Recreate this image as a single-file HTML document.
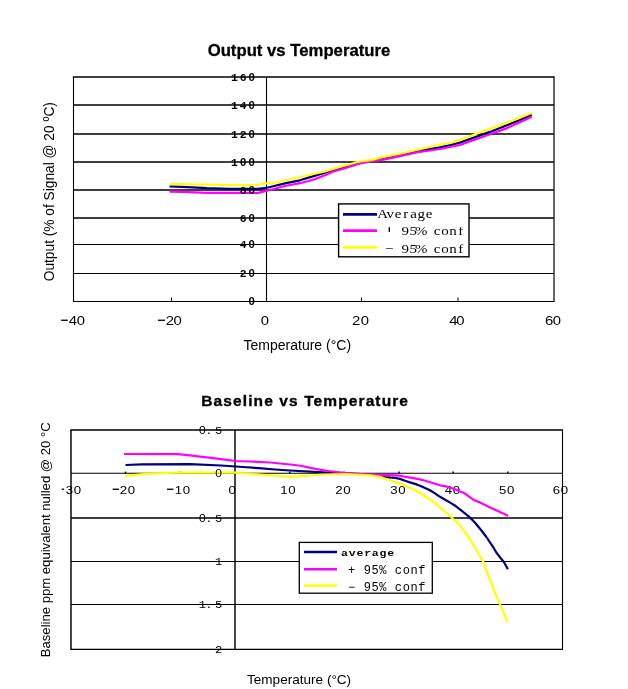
<!DOCTYPE html>
<html><head><meta charset="utf-8"><style>
html,body{margin:0;padding:0;background:#fff;width:628px;height:689px;overflow:hidden}
svg{display:block;will-change:transform}
</style></head><body>
<svg width="628" height="689" viewBox="0 0 628 689">
<rect x="0" y="0" width="628" height="689" fill="#fff"/>
<text x="207.65" y="55.5" font-family="Liberation Sans" font-size="17.3" font-weight="bold" textLength="182.66" lengthAdjust="spacingAndGlyphs" stroke="#000" stroke-width="0.3">Output vs Temperature</text>
<line x1="73.5" y1="105" x2="554.0" y2="105" stroke="#000" stroke-width="1.45"/>
<line x1="73.5" y1="134" x2="554.0" y2="134" stroke="#000" stroke-width="1.45"/>
<line x1="73.5" y1="162" x2="554.0" y2="162" stroke="#000" stroke-width="1.45"/>
<line x1="73.5" y1="190" x2="554.0" y2="190" stroke="#000" stroke-width="1.45"/>
<line x1="73.5" y1="218" x2="554.0" y2="218" stroke="#000" stroke-width="1.45"/>
<line x1="73.5" y1="244.5" x2="554.0" y2="244.5" stroke="#000" stroke-width="1.1"/>
<line x1="73.5" y1="273.5" x2="554.0" y2="273.5" stroke="#000" stroke-width="1.1"/>
<line x1="266.5" y1="77" x2="266.5" y2="301.5" stroke="#000" stroke-width="1.1"/>
<line x1="171.5" y1="297.5" x2="171.5" y2="301.5" stroke="#000" stroke-width="1"/>
<line x1="361.5" y1="297.5" x2="361.5" y2="301.5" stroke="#000" stroke-width="1"/>
<line x1="458" y1="297.5" x2="458" y2="301.5" stroke="#000" stroke-width="1"/>
<line x1="72.8" y1="77" x2="554.6" y2="77" stroke="#000" stroke-width="1.45"/>
<line x1="73.0" y1="301.5" x2="554.6" y2="301.5" stroke="#000" stroke-width="1.1"/>
<line x1="73.5" y1="77" x2="73.5" y2="301.5" stroke="#000" stroke-width="1.1"/>
<line x1="554.0" y1="77" x2="554.0" y2="301.5" stroke="#000" stroke-width="1.2"/>
<polyline points="169.5,186.5 182,186.8 207,188.2 230,188.8 258,188.8 268,187.5 285,183.4 300,180.3 312,176.6 325,172.6 345,166.7 365,162 380,158.5 400,155 420,150.6 430,148.9 440,147.3 450,145.2 460,142.6 490,131.9 520,120 531.8,114.8" fill="none" stroke="#000080" stroke-width="2.2" stroke-linejoin="round"/>
<polyline points="169.5,191.6 182,191.8 207,192.8 230,192.9 258,192.9 268,190.5 285,186 300,183.2 314,179.5 325,175.3 332,172 345,168.3 360,163.5 372,161.1 385,159.3 400,156.2 420,151.8 430,150.5 440,149 450,147 460,145 490,134.3 505,128.9 520,122.3 531.8,116.7" fill="none" stroke="#ff00ff" stroke-width="2.2" stroke-linejoin="round"/>
<polyline points="169.5,184 182,184.1 207,184.6 255,185.3 262,183.7 275,182.8 285,180.5 305,175.8 325,171.5 340,166.9 350,164.3 355,162.6 360,161.5 372,159.9 380,157.6 400,153.7 420,149.3 430,147 440,144.7 450,143 460,140 475,134.3 490,128.9 505,123.5 520,117.5 531.8,112.9" fill="none" stroke="#ffff00" stroke-width="2.2" stroke-linejoin="round"/>
<text transform="translate(234.50,80.8) scale(1.05,1)" text-anchor="middle" font-family="Liberation Mono" font-size="10.8" font-weight="bold">1</text>
<text transform="translate(243.10,80.8) scale(1.05,1)" text-anchor="middle" font-family="Liberation Mono" font-size="10.8" font-weight="bold">6</text>
<text transform="translate(251.70,80.8) scale(1.05,1)" text-anchor="middle" font-family="Liberation Sans" font-size="10.8" font-weight="bold">0</text>
<text transform="translate(234.50,108.8) scale(1.05,1)" text-anchor="middle" font-family="Liberation Mono" font-size="10.8" font-weight="bold">1</text>
<text transform="translate(243.10,108.8) scale(1.05,1)" text-anchor="middle" font-family="Liberation Mono" font-size="10.8" font-weight="bold">4</text>
<text transform="translate(251.70,108.8) scale(1.05,1)" text-anchor="middle" font-family="Liberation Sans" font-size="10.8" font-weight="bold">0</text>
<text transform="translate(234.50,137.8) scale(1.05,1)" text-anchor="middle" font-family="Liberation Mono" font-size="10.8" font-weight="bold">1</text>
<text transform="translate(243.10,137.8) scale(1.05,1)" text-anchor="middle" font-family="Liberation Mono" font-size="10.8" font-weight="bold">2</text>
<text transform="translate(251.70,137.8) scale(1.05,1)" text-anchor="middle" font-family="Liberation Sans" font-size="10.8" font-weight="bold">0</text>
<text transform="translate(234.50,165.8) scale(1.05,1)" text-anchor="middle" font-family="Liberation Mono" font-size="10.8" font-weight="bold">1</text>
<text transform="translate(243.10,165.8) scale(1.05,1)" text-anchor="middle" font-family="Liberation Sans" font-size="10.8" font-weight="bold">0</text>
<text transform="translate(251.70,165.8) scale(1.05,1)" text-anchor="middle" font-family="Liberation Sans" font-size="10.8" font-weight="bold">0</text>
<text transform="translate(243.10,193.8) scale(1.05,1)" text-anchor="middle" font-family="Liberation Mono" font-size="10.8" font-weight="bold">8</text>
<text transform="translate(251.70,193.8) scale(1.05,1)" text-anchor="middle" font-family="Liberation Sans" font-size="10.8" font-weight="bold">0</text>
<text transform="translate(243.10,221.8) scale(1.05,1)" text-anchor="middle" font-family="Liberation Mono" font-size="10.8" font-weight="bold">6</text>
<text transform="translate(251.70,221.8) scale(1.05,1)" text-anchor="middle" font-family="Liberation Sans" font-size="10.8" font-weight="bold">0</text>
<text transform="translate(243.10,248.3) scale(1.05,1)" text-anchor="middle" font-family="Liberation Mono" font-size="10.8" font-weight="bold">4</text>
<text transform="translate(251.70,248.3) scale(1.05,1)" text-anchor="middle" font-family="Liberation Sans" font-size="10.8" font-weight="bold">0</text>
<text transform="translate(243.10,277.3) scale(1.05,1)" text-anchor="middle" font-family="Liberation Mono" font-size="10.8" font-weight="bold">2</text>
<text transform="translate(251.70,277.3) scale(1.05,1)" text-anchor="middle" font-family="Liberation Sans" font-size="10.8" font-weight="bold">0</text>
<text transform="translate(251.70,305.3) scale(1.05,1)" text-anchor="middle" font-family="Liberation Sans" font-size="10.8" font-weight="bold">0</text>
<text transform="translate(72.90,324.5) scale(1.22,1)" text-anchor="middle" font-family="Liberation Sans" font-size="12.2" font-weight="normal">4</text>
<text transform="translate(80.90,324.5) scale(1.22,1)" text-anchor="middle" font-family="Liberation Sans" font-size="12.2" font-weight="normal">0</text>
<rect x="61.1" y="319.6" width="6.70" height="1.3" fill="#000"/>
<text transform="translate(169.80,324.5) scale(1.22,1)" text-anchor="middle" font-family="Liberation Sans" font-size="12.2" font-weight="normal">2</text>
<text transform="translate(177.70,324.5) scale(1.22,1)" text-anchor="middle" font-family="Liberation Sans" font-size="12.2" font-weight="normal">0</text>
<rect x="157.9" y="319.6" width="7.10" height="1.3" fill="#000"/>
<text transform="translate(265.00,324.5) scale(1.22,1)" text-anchor="middle" font-family="Liberation Sans" font-size="12.2" font-weight="normal">0</text>
<text transform="translate(356.20,324.5) scale(1.22,1)" text-anchor="middle" font-family="Liberation Sans" font-size="12.2" font-weight="normal">2</text>
<text transform="translate(364.80,324.5) scale(1.22,1)" text-anchor="middle" font-family="Liberation Sans" font-size="12.2" font-weight="normal">0</text>
<text transform="translate(453.40,324.5) scale(1.22,1)" text-anchor="middle" font-family="Liberation Sans" font-size="12.2" font-weight="normal">4</text>
<text transform="translate(460.50,324.5) scale(1.22,1)" text-anchor="middle" font-family="Liberation Sans" font-size="12.2" font-weight="normal">0</text>
<text transform="translate(549.10,324.5) scale(1.22,1)" text-anchor="middle" font-family="Liberation Sans" font-size="12.2" font-weight="normal">6</text>
<text transform="translate(556.80,324.5) scale(1.22,1)" text-anchor="middle" font-family="Liberation Sans" font-size="12.2" font-weight="normal">0</text>
<text x="243.54" y="349.9" font-family="Liberation Sans" font-size="13.8" font-weight="normal" textLength="107.57" lengthAdjust="spacingAndGlyphs">Temperature (°C)</text>
<g transform="translate(53.6,383.7) rotate(-90)">
<text x="102.46" y="0" font-family="Liberation Sans" font-size="14.3" font-weight="normal" textLength="179.14" lengthAdjust="spacingAndGlyphs">Output (% of Signal @ 20 ºC)</text>
</g>
<rect x="338.6" y="203.9" width="130.4" height="52.9" fill="#fff" stroke="#000" stroke-width="1.4"/>
<line x1="343" y1="214.4" x2="377" y2="214.4" stroke="#000080" stroke-width="2.6"/>
<line x1="343" y1="230.6" x2="377" y2="230.6" stroke="#ff00ff" stroke-width="2.6"/>
<line x1="343" y1="247.4" x2="377" y2="247.4" stroke="#ffff00" stroke-width="2.6"/>
<text transform="translate(382.60,218.3) scale(1.15,1)" text-anchor="middle" font-family="Liberation Serif" font-size="13" font-weight="normal">A</text>
<text transform="translate(390.35,218.3) scale(1.15,1)" text-anchor="middle" font-family="Liberation Serif" font-size="13" font-weight="normal">v</text>
<text transform="translate(398.10,218.3) scale(1.15,1)" text-anchor="middle" font-family="Liberation Serif" font-size="13" font-weight="normal">e</text>
<text transform="translate(405.85,218.3) scale(1.15,1)" text-anchor="middle" font-family="Liberation Serif" font-size="13" font-weight="normal">r</text>
<text transform="translate(413.60,218.3) scale(1.15,1)" text-anchor="middle" font-family="Liberation Serif" font-size="13" font-weight="normal">a</text>
<text transform="translate(421.35,218.3) scale(1.15,1)" text-anchor="middle" font-family="Liberation Serif" font-size="13" font-weight="normal">g</text>
<text transform="translate(429.10,218.3) scale(1.15,1)" text-anchor="middle" font-family="Liberation Serif" font-size="13" font-weight="normal">e</text>
<text transform="translate(405.20,234.7) scale(1.15,1)" text-anchor="middle" font-family="Liberation Serif" font-size="13" font-weight="normal">9</text>
<text transform="translate(413.15,234.7) scale(1.15,1)" text-anchor="middle" font-family="Liberation Serif" font-size="13" font-weight="normal">5</text>
<text transform="translate(421.10,234.7) scale(1.15,1)" text-anchor="middle" font-family="Liberation Serif" font-size="13" font-weight="normal">%</text>
<text transform="translate(437.00,234.7) scale(1.15,1)" text-anchor="middle" font-family="Liberation Serif" font-size="13" font-weight="normal">c</text>
<text transform="translate(444.95,234.7) scale(1.15,1)" text-anchor="middle" font-family="Liberation Serif" font-size="13" font-weight="normal">o</text>
<text transform="translate(452.90,234.7) scale(1.15,1)" text-anchor="middle" font-family="Liberation Serif" font-size="13" font-weight="normal">n</text>
<text transform="translate(460.85,234.7) scale(1.15,1)" text-anchor="middle" font-family="Liberation Serif" font-size="13" font-weight="normal">f</text>
<rect x="383" y="221.5" width="84" height="5.7" fill="#fff"/>
<rect x="388.6" y="227.2" width="1.4" height="4.7" fill="#000"/>
<text transform="translate(389.30,253.0) scale(1.15,1)" text-anchor="middle" font-family="Liberation Serif" font-size="13" font-weight="normal">−</text>
<text transform="translate(405.20,253.0) scale(1.15,1)" text-anchor="middle" font-family="Liberation Serif" font-size="13" font-weight="normal">9</text>
<text transform="translate(413.15,253.0) scale(1.15,1)" text-anchor="middle" font-family="Liberation Serif" font-size="13" font-weight="normal">5</text>
<text transform="translate(421.10,253.0) scale(1.15,1)" text-anchor="middle" font-family="Liberation Serif" font-size="13" font-weight="normal">%</text>
<text transform="translate(437.00,253.0) scale(1.15,1)" text-anchor="middle" font-family="Liberation Serif" font-size="13" font-weight="normal">c</text>
<text transform="translate(444.95,253.0) scale(1.15,1)" text-anchor="middle" font-family="Liberation Serif" font-size="13" font-weight="normal">o</text>
<text transform="translate(452.90,253.0) scale(1.15,1)" text-anchor="middle" font-family="Liberation Serif" font-size="13" font-weight="normal">n</text>
<text transform="translate(460.85,253.0) scale(1.15,1)" text-anchor="middle" font-family="Liberation Serif" font-size="13" font-weight="normal">f</text>
<text x="201.32" y="405.5" font-family="Liberation Sans" font-size="15.5" font-weight="bold" textLength="206.65" lengthAdjust="spacing" stroke="#000" stroke-width="0.35">Baseline vs Temperature</text>
<text transform="translate(69.50,493.5) scale(1.25,1)" text-anchor="middle" font-family="Liberation Sans" font-size="10.6" font-weight="normal">3</text>
<text transform="translate(77.50,493.5) scale(1.25,1)" text-anchor="middle" font-family="Liberation Sans" font-size="10.6" font-weight="normal">0</text>
<rect x="61.7" y="488.6" width="2.40" height="1.3" fill="#000"/>
<text transform="translate(123.40,493.5) scale(1.25,1)" text-anchor="middle" font-family="Liberation Sans" font-size="10.6" font-weight="normal">2</text>
<text transform="translate(131.40,493.5) scale(1.25,1)" text-anchor="middle" font-family="Liberation Sans" font-size="10.6" font-weight="normal">0</text>
<rect x="112.6" y="488.6" width="6.40" height="1.3" fill="#000"/>
<text transform="translate(178.50,493.5) scale(1.25,1)" text-anchor="middle" font-family="Liberation Sans" font-size="10.6" font-weight="normal">1</text>
<text transform="translate(186.50,493.5) scale(1.25,1)" text-anchor="middle" font-family="Liberation Sans" font-size="10.6" font-weight="normal">0</text>
<rect x="167.0" y="488.6" width="6.40" height="1.3" fill="#000"/>
<text transform="translate(232.30,493.5) scale(1.25,1)" text-anchor="middle" font-family="Liberation Sans" font-size="10.6" font-weight="normal">0</text>
<text transform="translate(284.00,493.5) scale(1.25,1)" text-anchor="middle" font-family="Liberation Sans" font-size="10.6" font-weight="normal">1</text>
<text transform="translate(292.00,493.5) scale(1.25,1)" text-anchor="middle" font-family="Liberation Sans" font-size="10.6" font-weight="normal">0</text>
<text transform="translate(339.00,493.5) scale(1.25,1)" text-anchor="middle" font-family="Liberation Sans" font-size="10.6" font-weight="normal">2</text>
<text transform="translate(347.00,493.5) scale(1.25,1)" text-anchor="middle" font-family="Liberation Sans" font-size="10.6" font-weight="normal">0</text>
<text transform="translate(394.00,493.5) scale(1.25,1)" text-anchor="middle" font-family="Liberation Sans" font-size="10.6" font-weight="normal">3</text>
<text transform="translate(402.00,493.5) scale(1.25,1)" text-anchor="middle" font-family="Liberation Sans" font-size="10.6" font-weight="normal">0</text>
<text transform="translate(448.50,493.5) scale(1.25,1)" text-anchor="middle" font-family="Liberation Sans" font-size="10.6" font-weight="normal">4</text>
<text transform="translate(456.50,493.5) scale(1.25,1)" text-anchor="middle" font-family="Liberation Sans" font-size="10.6" font-weight="normal">0</text>
<text transform="translate(502.70,493.5) scale(1.25,1)" text-anchor="middle" font-family="Liberation Sans" font-size="10.6" font-weight="normal">5</text>
<text transform="translate(510.70,493.5) scale(1.25,1)" text-anchor="middle" font-family="Liberation Sans" font-size="10.6" font-weight="normal">0</text>
<text transform="translate(556.50,493.5) scale(1.25,1)" text-anchor="middle" font-family="Liberation Sans" font-size="10.6" font-weight="normal">6</text>
<text transform="translate(564.50,493.5) scale(1.25,1)" text-anchor="middle" font-family="Liberation Sans" font-size="10.6" font-weight="normal">0</text>
<line x1="71" y1="473.3" x2="562.5" y2="473.3" stroke="#000" stroke-width="1.1"/>
<line x1="71" y1="518" x2="562.5" y2="518" stroke="#000" stroke-width="1.45"/>
<line x1="71" y1="561.5" x2="562.5" y2="561.5" stroke="#000" stroke-width="1.1"/>
<line x1="71" y1="604.5" x2="562.5" y2="604.5" stroke="#000" stroke-width="1.1"/>
<line x1="235" y1="430" x2="235" y2="649" stroke="#000" stroke-width="1.45"/>
<line x1="125.5" y1="471.6" x2="125.5" y2="473.3" stroke="#000" stroke-width="1.5"/>
<line x1="180.3" y1="471.6" x2="180.3" y2="473.3" stroke="#000" stroke-width="1.5"/>
<line x1="289.7" y1="471.6" x2="289.7" y2="473.3" stroke="#000" stroke-width="1.5"/>
<line x1="344" y1="471.6" x2="344" y2="473.3" stroke="#000" stroke-width="1.5"/>
<line x1="399" y1="471.6" x2="399" y2="473.3" stroke="#000" stroke-width="1.5"/>
<line x1="453.2" y1="471.6" x2="453.2" y2="473.3" stroke="#000" stroke-width="1.5"/>
<line x1="507.8" y1="471.6" x2="507.8" y2="473.3" stroke="#000" stroke-width="1.5"/>
<line x1="70.3" y1="430" x2="563.0" y2="430" stroke="#000" stroke-width="1.45"/>
<line x1="70.3" y1="649.4" x2="563.0" y2="649.4" stroke="#000" stroke-width="1.3"/>
<line x1="71" y1="430" x2="71" y2="649" stroke="#000" stroke-width="1.45"/>
<line x1="562.5" y1="430" x2="562.5" y2="649" stroke="#000" stroke-width="1.1"/>
<polyline points="125.5,465 142,464.3 190,464.2 221,465.5 243,467 259,468.2 275,469.5 290,470.5 310,471.7 323,472.3 345,473.3 371.7,474.5 385,477.2 395,477.9 400,478.9 405,480.8 410,482.4 415,483.9 420,485.8 425,488 430,490.3 435,493.4 440,496.8 446,500.2 451,503.1 456,506.3 461.8,510.8 468,515.8 472,519.6 475.5,523.2 481,530 486,536.5 490,542.3 493,546.8 496,552 498.5,555.3 501,558.5 504,562.3 507,567.5 507.8,569.3" fill="none" stroke="#000080" stroke-width="2.2" stroke-linejoin="round"/>
<polyline points="124,454 178,454.1 190,455.3 198,456.3 207,457.4 217,458.7 227,459.8 235,461 250,461.5 270,462.5 285,464 295,465 302,466 308,467.4 314,468.5 321,469.8 329,471 337,472 350,473.7 372,474.6 397,475.3 401,476 409,477.4 416,478.6 422,479.8 430,482.2 435,483.8 440,485.3 445,486.1 450,487.5 455,489.3 465,493.6 474,500.2 480,502.4 489.6,507.2 500.5,512.2 508,515.8" fill="none" stroke="#ff00ff" stroke-width="2.2" stroke-linejoin="round"/>
<polyline points="125,476.3 128.5,475.5 143.5,474.2 167,473 180,472.7 235,472.7 240,473.2 257,474.3 273,475.5 289,476.8 305,475.8 322,474.5 345,474 353,474.5 370,475.4 380,476.8 385,478.6 395,481.7 400,483.4 405,485.5 410,487.9 415,489.8 420,493 425,496.5 430,499.4 435,503.3 439.3,507 444.1,511 450.3,516.2 457,522.5 461,526.8 465.6,533 469,537.6 473.8,545.5 479,554.8 483.2,561.7 485.6,568.2 488.4,576 491.8,583.7 494.1,590.8 500.5,605.1 507.5,622.5" fill="none" stroke="#ffff00" stroke-width="2.2" stroke-linejoin="round"/>
<text transform="translate(202.40,433.7) scale(1.15,1)" text-anchor="middle" font-family="Liberation Sans" font-size="10.5" font-weight="normal">0</text>
<text transform="translate(208.90,433.7) scale(1.15,1)" text-anchor="middle" font-family="Liberation Mono" font-size="10.5" font-weight="normal">.</text>
<text transform="translate(218.70,433.7) scale(1.15,1)" text-anchor="middle" font-family="Liberation Mono" font-size="10.5" font-weight="normal">5</text>
<text transform="translate(218.70,477.0) scale(1.15,1)" text-anchor="middle" font-family="Liberation Sans" font-size="10.5" font-weight="normal">0</text>
<text transform="translate(202.40,521.7) scale(1.15,1)" text-anchor="middle" font-family="Liberation Sans" font-size="10.5" font-weight="normal">0</text>
<text transform="translate(208.90,521.7) scale(1.15,1)" text-anchor="middle" font-family="Liberation Mono" font-size="10.5" font-weight="normal">.</text>
<text transform="translate(218.70,521.7) scale(1.15,1)" text-anchor="middle" font-family="Liberation Mono" font-size="10.5" font-weight="normal">5</text>
<text transform="translate(218.70,565.2) scale(1.15,1)" text-anchor="middle" font-family="Liberation Mono" font-size="10.5" font-weight="normal">1</text>
<text transform="translate(202.40,608.2) scale(1.15,1)" text-anchor="middle" font-family="Liberation Mono" font-size="10.5" font-weight="normal">1</text>
<text transform="translate(208.90,608.2) scale(1.15,1)" text-anchor="middle" font-family="Liberation Mono" font-size="10.5" font-weight="normal">.</text>
<text transform="translate(218.70,608.2) scale(1.15,1)" text-anchor="middle" font-family="Liberation Mono" font-size="10.5" font-weight="normal">5</text>
<text transform="translate(218.70,653.1) scale(1.15,1)" text-anchor="middle" font-family="Liberation Mono" font-size="10.5" font-weight="normal">2</text>
<text x="246.97" y="683.5" font-family="Liberation Sans" font-size="13.4" font-weight="normal" textLength="104.17" lengthAdjust="spacingAndGlyphs">Temperature (°C)</text>
<g transform="translate(49.8,1079.2) rotate(-90)">
<text x="421.99" y="0" font-family="Liberation Sans" font-size="13" font-weight="normal" textLength="234.94" lengthAdjust="spacingAndGlyphs">Baseline ppm equivalent nulled @ 20 °C</text>
</g>
<rect x="299.3" y="542.4" width="133" height="50.8" fill="#fff" stroke="#000" stroke-width="1.3"/>
<line x1="304" y1="552" x2="337" y2="552" stroke="#000080" stroke-width="2.5"/>
<line x1="304" y1="569.2" x2="337" y2="569.2" stroke="#ff00ff" stroke-width="2.5"/>
<line x1="304" y1="585.4" x2="337" y2="585.4" stroke="#ffff00" stroke-width="2.5"/>
<text transform="translate(344.50,555.9) scale(1.25,1)" text-anchor="middle" font-family="Liberation Mono" font-size="9.2" font-weight="bold">a</text>
<text transform="translate(352.20,555.9) scale(1.25,1)" text-anchor="middle" font-family="Liberation Mono" font-size="9.2" font-weight="bold">v</text>
<text transform="translate(359.90,555.9) scale(1.25,1)" text-anchor="middle" font-family="Liberation Mono" font-size="9.2" font-weight="bold">e</text>
<text transform="translate(367.60,555.9) scale(1.25,1)" text-anchor="middle" font-family="Liberation Mono" font-size="9.2" font-weight="bold">r</text>
<text transform="translate(375.30,555.9) scale(1.25,1)" text-anchor="middle" font-family="Liberation Mono" font-size="9.2" font-weight="bold">a</text>
<text transform="translate(383.00,555.9) scale(1.25,1)" text-anchor="middle" font-family="Liberation Mono" font-size="9.2" font-weight="bold">g</text>
<text transform="translate(390.70,555.9) scale(1.25,1)" text-anchor="middle" font-family="Liberation Mono" font-size="9.2" font-weight="bold">e</text>
<text transform="translate(351.60,573.6) scale(1.0,1)" text-anchor="middle" font-family="Liberation Mono" font-size="12" font-weight="normal">+</text>
<text transform="translate(367.22,573.6) scale(1.0,1)" text-anchor="middle" font-family="Liberation Mono" font-size="12" font-weight="normal">9</text>
<text transform="translate(375.03,573.6) scale(1.0,1)" text-anchor="middle" font-family="Liberation Mono" font-size="12" font-weight="normal">5</text>
<text transform="translate(382.84,573.6) scale(1.0,1)" text-anchor="middle" font-family="Liberation Mono" font-size="12" font-weight="normal">%</text>
<text transform="translate(398.46,573.6) scale(1.0,1)" text-anchor="middle" font-family="Liberation Mono" font-size="12" font-weight="normal">c</text>
<text transform="translate(406.27,573.6) scale(1.0,1)" text-anchor="middle" font-family="Liberation Mono" font-size="12" font-weight="normal">o</text>
<text transform="translate(414.08,573.6) scale(1.0,1)" text-anchor="middle" font-family="Liberation Mono" font-size="12" font-weight="normal">n</text>
<text transform="translate(421.89,573.6) scale(1.0,1)" text-anchor="middle" font-family="Liberation Mono" font-size="12" font-weight="normal">f</text>
<text transform="translate(351.60,590.8) scale(1.0,1)" text-anchor="middle" font-family="Liberation Mono" font-size="12" font-weight="normal">−</text>
<text transform="translate(367.22,590.8) scale(1.0,1)" text-anchor="middle" font-family="Liberation Mono" font-size="12" font-weight="normal">9</text>
<text transform="translate(375.03,590.8) scale(1.0,1)" text-anchor="middle" font-family="Liberation Mono" font-size="12" font-weight="normal">5</text>
<text transform="translate(382.84,590.8) scale(1.0,1)" text-anchor="middle" font-family="Liberation Mono" font-size="12" font-weight="normal">%</text>
<text transform="translate(398.46,590.8) scale(1.0,1)" text-anchor="middle" font-family="Liberation Mono" font-size="12" font-weight="normal">c</text>
<text transform="translate(406.27,590.8) scale(1.0,1)" text-anchor="middle" font-family="Liberation Mono" font-size="12" font-weight="normal">o</text>
<text transform="translate(414.08,590.8) scale(1.0,1)" text-anchor="middle" font-family="Liberation Mono" font-size="12" font-weight="normal">n</text>
<text transform="translate(421.89,590.8) scale(1.0,1)" text-anchor="middle" font-family="Liberation Mono" font-size="12" font-weight="normal">f</text>
</svg>
</body></html>
